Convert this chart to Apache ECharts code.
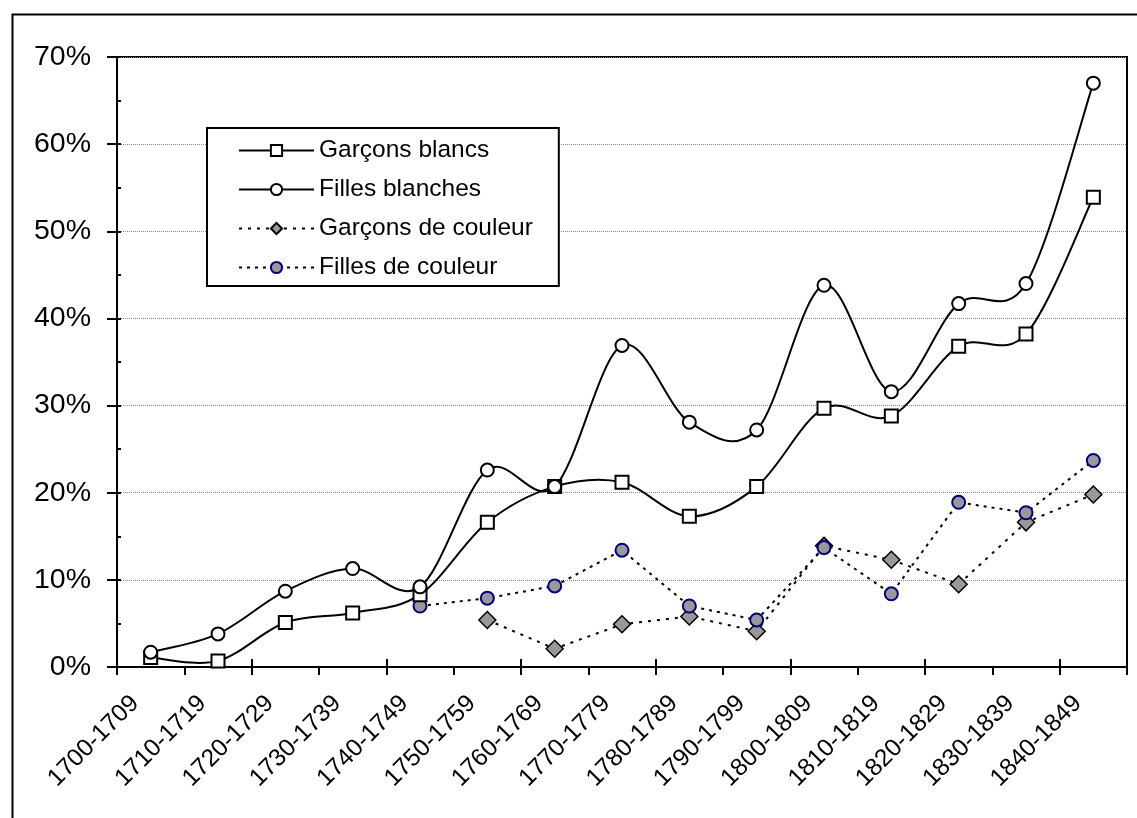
<!DOCTYPE html>
<html>
<head>
<meta charset="utf-8">
<title>Garçons et filles</title>
<script src="https://cdn.jsdelivr.net/npm/echarts@6/dist/echarts.min.js"></script>
<style>
  html, body { margin: 0; padding: 0; background: #fff; }
  #chart { width: 1137px; height: 818px; }
</style>
</head>
<body>
<div id="chart"></div>
<script>
// decades on the x axis
var decades = ['1700-1709', '1710-1719', '1720-1729', '1730-1739', '1740-1749',
  '1750-1759', '1760-1769', '1770-1779', '1780-1789', '1790-1799',
  '1800-1809', '1810-1819', '1820-1829', '1830-1839', '1840-1849'];

// values in percent
var garconsBlancs = [1.1, 0.7, 5.1, 6.2, 8.3, 16.6, 20.7, 21.2, 17.3, 20.7, 29.7, 28.8, 36.8, 38.2, 53.9];
var fillesBlanches = [1.7, 3.8, 8.7, 11.3, 9.2, 22.6, 20.7, 36.9, 28.1, 27.2, 43.8, 31.6, 41.7, 44.0, 67.0];
var garconsCouleur = [null, null, null, null, null, 5.4, 2.1, 4.9, 5.8, 4.1, 13.9, 12.3, 9.5, 16.6, 19.8];
var fillesCouleur = [null, null, null, null, 7.0, 7.9, 9.3, 13.4, 7.0, 5.4, 13.7, 8.4, 18.9, 17.7, 23.7];

var font = '"Liberation Sans", Arial, sans-serif';

// smooth curve like the spreadsheet one: each item draws the bezier
// segment to the next point, tangents taken from the neighbours
function courbe(values) {
  return function (params, api) {
    var i = params.dataIndex;
    if (i >= values.length - 1) return;
    var p1 = api.coord([i, values[i]]);
    var p2 = api.coord([i + 1, values[i + 1]]);
    var p0 = i > 0 ? api.coord([i - 1, values[i - 1]]) : p1;
    var p3 = i + 2 < values.length ? api.coord([i + 2, values[i + 2]]) : p2;
    return {
      type: 'bezierCurve',
      shape: {
        x1: p1[0], y1: p1[1], x2: p2[0], y2: p2[1],
        cpx1: p1[0] + (p2[0] - p0[0]) / 6, cpy1: p1[1] + (p2[1] - p0[1]) / 6,
        cpx2: p2[0] - (p3[0] - p1[0]) / 6, cpy2: p2[1] - (p3[1] - p1[1]) / 6
      },
      style: { fill: null, stroke: '#000', lineWidth: 2 }
    };
  };
}

function points(values) {
  return values.map(function (v, i) { return [i, v]; });
}

var chart = echarts.init(document.getElementById('chart'));

var plainLine = { color: '#000', width: 2, type: 'solid', opacity: 1 };

var option = {
  animation: false,
  backgroundColor: '#fff',
  textStyle: { fontFamily: font, color: '#000' },
  graphic: [{
    type: 'rect',
    left: 10, top: 12,
    shape: { width: 1200, height: 900 },
    style: { fill: 'none', stroke: '#000', lineWidth: 2 },
    z: -10
  }],
  grid: {
    left: 117, right: 10, top: 57, bottom: 151,
    show: true, borderColor: '#000', borderWidth: 2
  },
  legend: {
    orient: 'vertical',
    left: 207, top: 128,
    borderColor: '#000', borderWidth: 2,
    backgroundColor: '#fff',
    padding: [10, 26, 6, 31],
    itemWidth: 75, itemHeight: 14, itemGap: 14,
    textStyle: { fontFamily: font, fontSize: 24.5, color: '#000', lineHeight: 24 },
    data: [
      { name: 'Garçons blancs', lineStyle: plainLine },
      { name: 'Filles blanches', lineStyle: plainLine },
      'Garçons de couleur',
      'Filles de couleur'
    ]
  },
  xAxis: [{
    type: 'category',
    position: 'bottom',
    data: decades,
    boundaryGap: true,
    axisLine: { lineStyle: { color: '#000', width: 2 } },
    axisTick: { show: true, inside: false, length: 8, lineStyle: { color: '#000', width: 2 } },
    axisLabel: {
      interval: 0, rotate: 45, margin: 17,
      fontFamily: font, fontSize: 24.5, color: '#000',
      padding: [0, 22, 0, 0]
    },
    splitLine: { show: false }
  }, {
    type: 'category',
    position: 'bottom',
    offset: 0,
    data: decades,
    boundaryGap: true,
    axisLine: { show: false },
    axisTick: { show: true, inside: true, length: 8, lineStyle: { color: '#000', width: 2 } },
    axisLabel: { show: false },
    splitLine: { show: false }
  }],
  yAxis: [{
    type: 'value',
    position: 'left',
    min: 0, max: 70, interval: 10,
    axisLine: { show: true, lineStyle: { color: '#000', width: 2 } },
    axisTick: { show: true, inside: false, length: 10, lineStyle: { color: '#000', width: 2 } },
    axisLabel: { formatter: '{value}%', margin: 26, fontFamily: font, fontSize: 28.5, color: '#000' },
    splitLine: { show: true, lineStyle: { color: '#8a8a8a', width: 1, type: [1, 1] } }
  }, {
    type: 'value',
    position: 'left',
    offset: 0,
    min: 0, max: 70, interval: 5,
    axisLine: { show: false },
    axisTick: { show: true, inside: true, length: 4, lineStyle: { color: '#000', width: 2 } },
    axisLabel: { show: false },
    splitLine: { show: false }
  }],
  series: [{
    name: 'courbe garçons blancs',
    type: 'custom',
    data: points(garconsBlancs),
    encode: { x: 0, y: 1 },
    renderItem: courbe(garconsBlancs),
    silent: true,
    z: 2
  }, {
    name: 'courbe filles blanches',
    type: 'custom',
    data: points(fillesBlanches),
    encode: { x: 0, y: 1 },
    renderItem: courbe(fillesBlanches),
    silent: true,
    z: 2
  }, {
    name: 'Garçons blancs',
    type: 'line',
    data: garconsBlancs,
    symbol: 'rect', symbolSize: 13,
    lineStyle: { color: '#000', width: 2, opacity: 0 },
    itemStyle: { color: '#fff', borderColor: '#000', borderWidth: 2 },
    z: 3
  }, {
    name: 'Filles blanches',
    type: 'line',
    data: fillesBlanches,
    symbol: 'circle', symbolSize: 13,
    lineStyle: { color: '#000', width: 2, opacity: 0 },
    itemStyle: { color: '#fff', borderColor: '#000', borderWidth: 2 },
    z: 4
  }, {
    name: 'Garçons de couleur',
    type: 'line',
    data: garconsCouleur,
    symbol: 'diamond', symbolSize: 17,
    lineStyle: { color: '#000', width: 2, type: [3, 6] },
    itemStyle: { color: '#999', borderColor: '#000', borderWidth: 1.5 },
    z: 2
  }, {
    name: 'Filles de couleur',
    type: 'line',
    data: fillesCouleur,
    symbol: 'circle', symbolSize: 13,
    lineStyle: { color: '#000', width: 2, type: [3, 5] },
    itemStyle: { color: '#999', borderColor: '#000080', borderWidth: 2 },
    z: 2
  }]
};

chart.setOption(option);
</script>
</body>
</html>
